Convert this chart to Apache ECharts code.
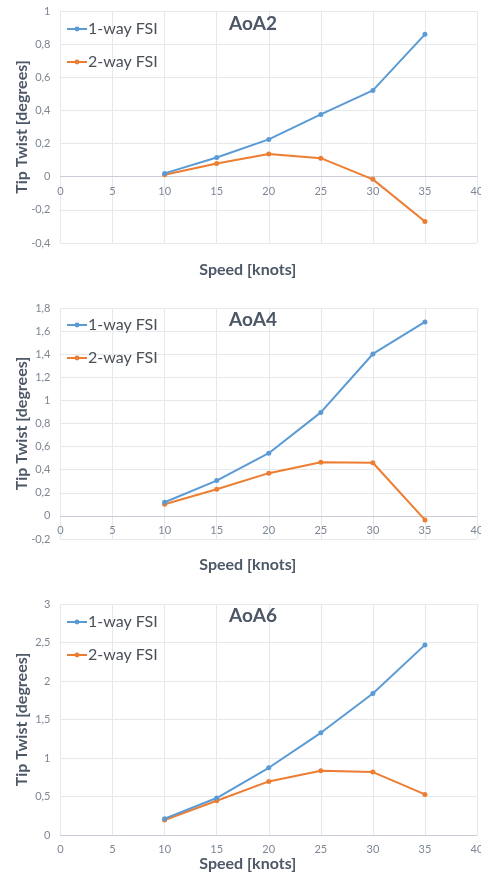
<!DOCTYPE html>
<html>
<head>
<meta charset="utf-8">
<script src="https://cdn.jsdelivr.net/npm/echarts@6/dist/echarts.min.js"></script>
<style>
html,body{margin:0;padding:0;background:#fff;}
#chart{width:481px;height:872px;}
</style>
</head>
<body>
<div id="chart"></div>
<script>
// Data
var speeds = [10, 15, 20, 25, 30, 35];
var seriesNames = ['1-way FSI', '2-way FSI'];
var chartTitles = ['AoA2', 'AoA4', 'AoA6'];
var aoa2_oneWay = [0.02, 0.116, 0.225, 0.376, 0.521, 0.859];
var aoa2_twoWay = [0.012, 0.08, 0.137, 0.112, -0.016, -0.27];
var aoa4_oneWay = [0.118, 0.306, 0.543, 0.896, 1.402, 1.679];
var aoa4_twoWay = [0.101, 0.231, 0.37, 0.465, 0.46, -0.035];
var aoa6_oneWay = [0.212, 0.48, 0.873, 1.327, 1.837, 2.469];
var aoa6_twoWay = [0.195, 0.445, 0.696, 0.834, 0.817, 0.527];
var yRanges = [[-0.4, 1, 0.2], [-0.2, 1.8, 0.2], [0, 3, 0.5]];
var xRange = [0, 40, 5];
var xTitle = 'Speed [knots]';
var yTitle = 'Tip Twist [degrees]';

var oneWay = [aoa2_oneWay, aoa4_oneWay, aoa6_oneWay];
var twoWay = [aoa2_twoWay, aoa4_twoWay, aoa6_twoWay];

var FONT = 'Lato';
var gridPos = [
  {top: 11, height: 232},
  {top: 308, height: 231},
  {top: 604, height: 231}
];
var xNameGap = [85, 41, 19];
var legendTops = [16, 312, 609];
var titleTops = [9, 305, 601];

function pairs(vals){ return speeds.map(function(s,i){ return [s, vals[i]]; }); }
function fmt(v){ return String(Math.round(v*10)/10).replace('.', ','); }

var grids = [], xAxes = [], yAxes = [], series = [], titles = [], legends = [];
for (var k = 0; k < 3; k++) {
  var yMin = yRanges[k][0], yMax = yRanges[k][1];
  // place the x axis at value 0 of the y scale (Excel style)
  var zeroOffset = -gridPos[k].height * (0 - yMin) / (yMax - yMin);
  grids.push({left: 60.5, right: 4, top: gridPos[k].top, height: gridPos[k].height,
    containLabel: false, outerBoundsMode: 'none'});
  xAxes.push({
    type: 'value', gridIndex: k, min: xRange[0], max: xRange[1], interval: xRange[2],
    position: 'bottom', offset: zeroOffset,
    axisLine: {show: true, onZero: false, lineStyle: {color: '#c9ced6', width: 1}},
    axisTick: {show: false},
    axisLabel: {color: '#7d8694', fontFamily: FONT, fontSize: 11, margin: 9},
    splitLine: {show: true, lineStyle: {color: '#e6e8eb', width: 1}},
    name: xTitle, nameLocation: 'middle', nameGap: xNameGap[k],
    nameTextStyle: {color: '#4d5766', fontFamily: FONT, fontSize: 16, fontWeight: 'bold',
      verticalAlign: 'top', align: 'center', padding: [0, 42, 0, 0]}
  });
  yAxes.push({
    type: 'value', gridIndex: k, min: yMin, max: yMax, interval: yRanges[k][2],
    axisLine: {show: false}, axisTick: {show: false},
    axisLabel: {color: '#7d8694', fontFamily: FONT, fontSize: 11, margin: 10, formatter: fmt},
    splitLine: {show: true, lineStyle: {color: '#e6e8eb', width: 1}},
    name: yTitle, nameLocation: 'middle', nameGap: 31, nameRotate: 90, nameMoveOverlap: false,
    nameTextStyle: {color: '#4d5766', fontFamily: FONT, fontSize: 16, fontWeight: 'bold'}
  });
  series.push({
    name: seriesNames[0], type: 'line', xAxisIndex: k, yAxisIndex: k,
    data: pairs(oneWay[k]), symbol: 'circle', symbolSize: 5,
    lineStyle: {color: '#5b9bd5', width: 2}, itemStyle: {color: '#5b9bd5'}, z: 3
  });
  series.push({
    name: seriesNames[1], type: 'line', xAxisIndex: k, yAxisIndex: k,
    data: pairs(twoWay[k]), symbol: 'circle', symbolSize: 5,
    lineStyle: {color: '#ed7d31', width: 2}, itemStyle: {color: '#ed7d31'}, z: 2
  });
  titles.push({
    text: chartTitles[k], left: 248, top: titleTops[k], textAlign: 'center',
    textStyle: {color: '#4d5766', fontFamily: FONT, fontSize: 19, fontWeight: 'bold'}
  });
  legends.push({
    data: seriesNames, orient: 'vertical', left: 61, top: legendTops[k],
    itemGap: 17, itemWidth: 20, itemHeight: 6,
    textStyle: {color: '#4a4f57', fontFamily: FONT, fontSize: 16, padding: [0,0,0,-4]},
    selectedMode: false
  });
}

var chart = echarts.init(document.getElementById('chart'), null, {renderer: 'canvas'});
chart.setOption({
  animation: false,
  backgroundColor: '#ffffff',
  title: titles,
  legend: legends,
  grid: grids,
  xAxis: xAxes,
  yAxis: yAxes,
  series: series
});
</script>
</body>
</html>
